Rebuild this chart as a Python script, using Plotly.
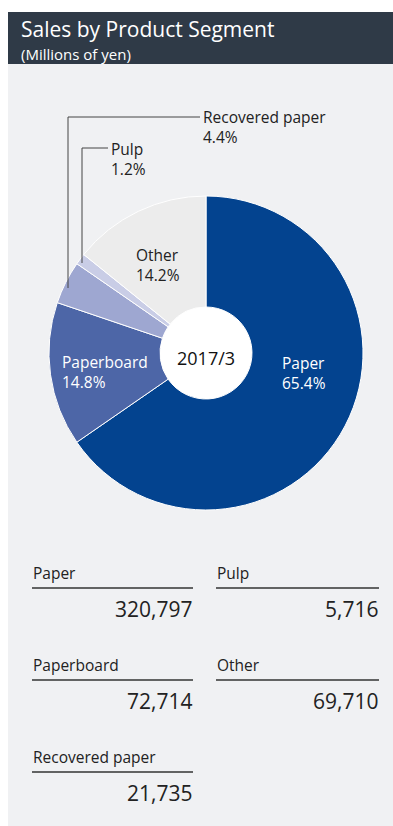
import plotly.graph_objects as go

# ---- data ----
segments = ["Paper", "Paperboard", "Recovered paper", "Pulp", "Other"]
sales = [320797, 72714, 21735, 5716, 69710]
colors = ["#03438f", "#4d66a7", "#9ea7d1", "#c9cde6", "#ececec"]
period = "2017/3"
title = "Sales by Product Segment"
subtitle = "(Millions of yen)"

W, H = 393, 826
FONT = "Open Sans"

def px(x):
    return x / W

def py(y):
    return 1 - y / H

total = sum(sales)
pct = {s: 100.0 * v / total for s, v in zip(segments, sales)}

cx, cy, R, r_hole = 206, 353, 157, 46

fig = go.Figure()
fig.add_trace(go.Pie(
    labels=segments,
    values=sales,
    sort=False,
    direction="clockwise",
    rotation=0,
    hole=r_hole / R,
    marker=dict(colors=colors, line=dict(color="white", width=1)),
    textinfo="none",
    hoverinfo="label+value+percent",
    showlegend=False,
    domain=dict(x=[px(cx - R), px(cx + R)], y=[py(cy + R), py(cy - R)]),
))

shapes = []
annotations = []

# panel background and header
shapes.append(dict(type="rect", xref="paper", yref="paper", x0=px(8), x1=1, y0=0, y1=py(64),
                   fillcolor="#f0f1f3", line=dict(width=0), layer="below"))
shapes.append(dict(type="rect", xref="paper", yref="paper", x0=px(8), x1=1, y0=py(64), y1=py(12),
                   fillcolor="#2f3a47", line=dict(width=0), layer="below"))
# white centre
shapes.append(dict(type="circle", xref="paper", yref="paper",
                   x0=px(cx - r_hole), x1=px(cx + r_hole), y0=py(cy + r_hole), y1=py(cy - r_hole),
                   fillcolor="white", line=dict(width=0), layer="below"))

annotations.append(dict(x=px(19), y=py(39), xref="paper", yref="paper", xanchor="left", yanchor="middle",
                        align="left",
                        text=f"<span style='font-size:21px'>{title}</span><br><span style='font-size:15px'>{subtitle}</span>",
                        showarrow=False, font=dict(family=FONT, size=18, color="white")))

annotations.append(dict(x=px(cx), y=py(358), xref="paper", yref="paper", xanchor="center", yanchor="middle",
                        text=period, showarrow=False, font=dict(family=FONT, size=18, color="#111")))

def lbl(name, x, y, color):
    annotations.append(dict(x=px(x), y=py(y), xref="paper", yref="paper", xanchor="left", yanchor="middle",
                            align="left", text=f"{name}<br>{pct[name]:.1f}%", showarrow=False,
                            font=dict(family=FONT, size=15.5, color=color)))

lbl("Paper", 280, 373, "white")
lbl("Paperboard", 60, 372, "white")
lbl("Other", 134, 265, "#222")
lbl("Recovered paper", 201, 127, "#222")
lbl("Pulp", 109, 159, "#222")

# leader lines
def seg(x0, y0, x1, y1):
    shapes.append(dict(type="line", xref="paper", yref="paper", x0=px(x0), y0=py(y0), x1=px(x1), y1=py(y1),
                       line=dict(color="#444", width=1)))

seg(68, 288, 68, 117)
seg(68, 117, 200, 117)
seg(82, 263, 82, 148)
seg(82, 148, 108, 148)

# table
table_layout = [("Paper", 32, 193, 573), ("Pulp", 216, 379, 573),
                ("Paperboard", 32, 193, 665), ("Other", 216, 379, 665),
                ("Recovered paper", 32, 193, 757)]
for name, x0, x1, y in table_layout:
    v = sales[segments.index(name)]
    annotations.append(dict(x=px(x0 - 1), y=py(y), xref="paper", yref="paper", xanchor="left", yanchor="middle",
                            text=name, showarrow=False, font=dict(family=FONT, size=15.5, color="#222")))
    shapes.append(dict(type="line", xref="paper", yref="paper", x0=px(x0), x1=px(x1), y0=py(y + 15), y1=py(y + 15),
                       line=dict(color="#333", width=1.3)))
    annotations.append(dict(x=px(x1 + 1), y=py(y + 36), xref="paper", yref="paper", xanchor="right", yanchor="middle",
                            text=f"{v:,}", showarrow=False, font=dict(family=FONT, size=21, color="#222")))

fig.update_layout(
    width=W, height=H,
    margin=dict(l=0, r=0, t=0, b=0),
    paper_bgcolor="white",
    plot_bgcolor="white",
    shapes=shapes,
    annotations=annotations,
)

fig.write_html("out.html")
